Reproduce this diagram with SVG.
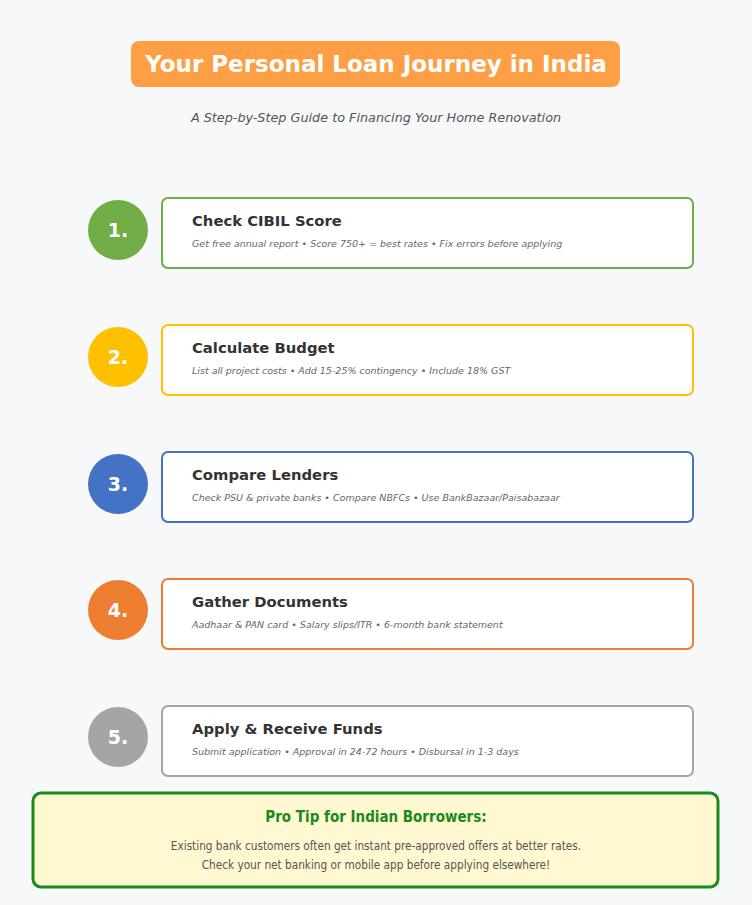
<svg xmlns="http://www.w3.org/2000/svg" width="752" height="905" viewBox="0 0 752 905">
<style>
.bg{fill:#f7f8fa}
.card{fill:#ffffff;stroke-width:2}
.num{font-family:"DejaVu Sans",sans-serif;font-weight:bold;font-size:19px;fill:#ffffff;text-anchor:middle}
.ct{font-family:"DejaVu Sans",sans-serif;font-weight:bold;font-size:14.8px;fill:#333333}
.cd{font-family:"DejaVu Sans",sans-serif;font-style:italic;font-size:9.5px;fill:#666666}
.tip{font-family:"DejaVu Sans Condensed","DejaVu Sans",sans-serif;font-size:11.7px;fill:#555555;text-anchor:middle}
</style>
<rect class="bg" x="0" y="0" width="752" height="905"/>
<g id="title">
<rect x="131" y="41" width="489" height="46" rx="8" fill="#ff9f45"/>
<text x="376" y="72" font-family="DejaVu Sans,sans-serif" font-weight="bold" font-size="23" fill="#ffffff" text-anchor="middle">Your Personal Loan Journey in India</text>
</g>
<g id="subtitle">
<text x="376" y="122" font-family="DejaVu Sans,sans-serif" font-style="italic" font-size="12.8" fill="#555555" text-anchor="middle">A Step-by-Step Guide to Financing Your Home Renovation</text>
</g>
<g id="step1">
<circle cx="118" cy="230" r="30" fill="#70ad47"/>
<text class="num" x="118" y="237">1.</text>
<rect class="card" x="162" y="198" width="531" height="70" rx="6" stroke="#70ad47"/>
<text class="ct" x="192" y="226">Check CIBIL Score</text>
<text class="cd" x="192" y="247">Get free annual report • Score 750+ = best rates • Fix errors before applying</text>
</g>
<g id="step2">
<circle cx="118" cy="357" r="30" fill="#ffc000"/>
<text class="num" x="118" y="364">2.</text>
<rect class="card" x="162" y="325" width="531" height="70" rx="6" stroke="#ffc000"/>
<text class="ct" x="192" y="353">Calculate Budget</text>
<text class="cd" x="192" y="374">List all project costs • Add 15-25% contingency • Include 18% GST</text>
</g>
<g id="step3">
<circle cx="118" cy="484" r="30" fill="#4472c4"/>
<text class="num" x="118" y="491">3.</text>
<rect class="card" x="162" y="452" width="531" height="70" rx="6" stroke="#4472c4"/>
<text class="ct" x="192" y="480">Compare Lenders</text>
<text class="cd" x="192" y="501">Check PSU &amp; private banks • Compare NBFCs • Use BankBazaar/Paisabazaar</text>
</g>
<g id="step4">
<circle cx="118" cy="610" r="30" fill="#ed7d31"/>
<text class="num" x="118" y="617">4.</text>
<rect class="card" x="162" y="579" width="531" height="70" rx="6" stroke="#ed7d31"/>
<text class="ct" x="192" y="607">Gather Documents</text>
<text class="cd" x="192" y="628">Aadhaar &amp; PAN card • Salary slips/ITR • 6-month bank statement</text>
</g>
<g id="step5">
<circle cx="118" cy="737" r="30" fill="#a5a5a5"/>
<text class="num" x="118" y="744">5.</text>
<rect class="card" x="162" y="706" width="531" height="70" rx="6" stroke="#a5a5a5"/>
<text class="ct" x="192" y="734">Apply &amp; Receive Funds</text>
<text class="cd" x="192" y="755">Submit application • Approval in 24-72 hours • Disbursal in 1-3 days</text>
</g>
<g id="protip">
<rect x="33" y="793" width="685" height="94" rx="8" fill="#fff8d0" stroke="#1a8a1a" stroke-width="3"/>
<text x="376" y="822" font-family="DejaVu Sans Condensed,DejaVu Sans,sans-serif" font-weight="bold" font-size="15" fill="#1a8a1a" text-anchor="middle">Pro Tip for Indian Borrowers:</text>
<text class="tip" x="376" y="850">Existing bank customers often get instant pre-approved offers at better rates.</text>
<text class="tip" x="376" y="869">Check your net banking or mobile app before applying elsewhere!</text>
</g>
</svg>
